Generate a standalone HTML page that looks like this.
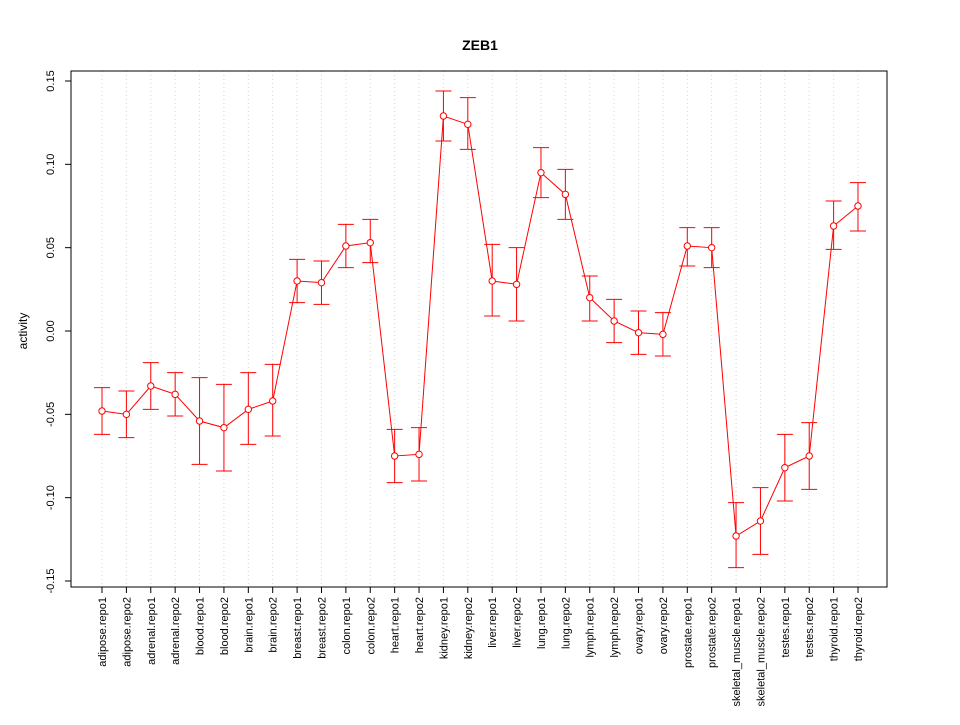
<!DOCTYPE html>
<html><head><meta charset="utf-8"><style>
body{margin:0;background:#fff;}
svg{font-family:"Liberation Sans",sans-serif;}
</style></head><body>
<svg id="chart" width="960" height="720" xmlns="http://www.w3.org/2000/svg">
<rect width="960" height="720" fill="#fff"/>
<text x="480" y="50" text-anchor="middle" font-size="14" font-weight="bold">ZEB1</text>
<text transform="translate(27,331) rotate(-90)" text-anchor="middle" font-size="12">activity</text>
<g id="grid"></g><g id="axes"></g><g id="marks"></g>
</svg>
<script>
const categories=["adipose.repo1","adipose.repo2","adrenal.repo1","adrenal.repo2","blood.repo1","blood.repo2","brain.repo1","brain.repo2","breast.repo1","breast.repo2","colon.repo1","colon.repo2","heart.repo1","heart.repo2","kidney.repo1","kidney.repo2","liver.repo1","liver.repo2","lung.repo1","lung.repo2","lymph.repo1","lymph.repo2","ovary.repo1","ovary.repo2","prostate.repo1","prostate.repo2","skeletal_muscle.repo1","skeletal_muscle.repo2","testes.repo1","testes.repo2","thyroid.repo1","thyroid.repo2"];
const values=[-0.048,-0.050,-0.033,-0.038,-0.054,-0.058,-0.047,-0.042,0.030,0.029,0.051,0.053,-0.075,-0.074,0.129,0.124,0.030,0.028,0.095,0.082,0.020,0.006,-0.001,-0.002,0.051,0.050,-0.123,-0.114,-0.082,-0.075,0.063,0.075];
const upper=[-0.034,-0.036,-0.019,-0.025,-0.028,-0.032,-0.025,-0.020,0.043,0.042,0.064,0.067,-0.059,-0.058,0.144,0.140,0.052,0.050,0.110,0.097,0.033,0.019,0.012,0.011,0.062,0.062,-0.103,-0.094,-0.062,-0.055,0.078,0.089];
const lower=[-0.062,-0.064,-0.047,-0.051,-0.080,-0.084,-0.068,-0.063,0.017,0.016,0.038,0.041,-0.091,-0.090,0.114,0.109,0.009,0.006,0.080,0.067,0.006,-0.007,-0.014,-0.015,0.039,0.038,-0.142,-0.134,-0.102,-0.095,0.049,0.060];
const yTicks=[-0.15,-0.10,-0.05,0.00,0.05,0.10,0.15];
const yTickLabels=["-0.15","-0.10","-0.05","0.00","0.05","0.10","0.15"];

const NS="http://www.w3.org/2000/svg";
const L=71,R=887,T=71,B=587;
const y=v=>331-v*1666.7;
const x=i=>102+i*(756/(categories.length-1));
function mk(parent,tag,attrs){const e=document.createElementNS(NS,tag);for(const k in attrs)e.setAttribute(k,attrs[k]);document.getElementById(parent).appendChild(e);return e;}

categories.forEach((c,i)=>{
  const g=mk("grid","line",{x1:x(i),x2:x(i),y1:T,y2:B,stroke:"#d3d3d3","stroke-dasharray":"1,3"});
  
  
  const tk=mk("axes","line",{x1:x(i),x2:x(i),y1:B,y2:B+6,stroke:"#000"});
  
  
  const t=mk("axes","text",{transform:`translate(${x(i)+4},${B+10}) rotate(-90)`,"text-anchor":"end","font-size":"11"});
  t.textContent=c;
  
  
});
const frame=mk("axes","rect",{x:L,y:T,width:R-L,height:B-T,fill:"none",stroke:"#000"});


yTicks.forEach((v,i)=>{
  const tk=mk("axes","line",{x1:L-6,x2:L,y1:y(v),y2:y(v),stroke:"#000"});
  
  
  const t=mk("axes","text",{transform:`translate(${L-17},${y(v)}) rotate(-90)`,"text-anchor":"middle","font-size":"11"});
  t.textContent=yTickLabels[i];
  
  
});
const pl=mk("marks","polyline",{points:values.map((v,i)=>x(i)+","+y(v)).join(" "),fill:"none",stroke:"#f00","stroke-width":"1"});


values.forEach((v,i)=>{
  const eb=mk("marks","path",{d:`M${x(i)},${y(upper[i])}V${y(lower[i])}M${x(i)-8},${y(upper[i])}H${x(i)+8}M${x(i)-8},${y(lower[i])}H${x(i)+8}`,stroke:"#f00",fill:"none"});
  
  
  const p=mk("marks","circle",{cx:x(i),cy:y(v),r:3.2,fill:"#fff",stroke:"#f00"});
  
  
});
</script>
</body></html>
